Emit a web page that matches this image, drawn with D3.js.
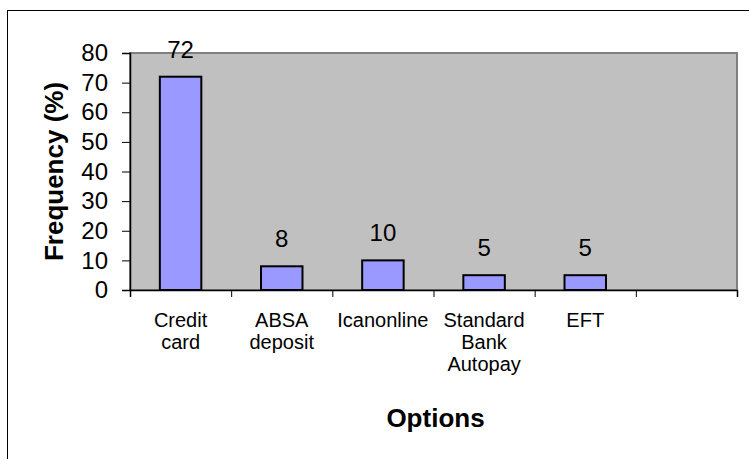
<!DOCTYPE html>
<html><head><meta charset="utf-8">
<script src="https://cdn.jsdelivr.net/npm/d3@7"></script>
<style>body{margin:0;background:#fff}svg{display:block;font-family:Arial,"Liberation Sans",sans-serif}</style>
</head><body>
<script>
const categories = ["Credit card","ABSA deposit","Icanonline","Standard Bank Autopay","EFT",""];
const categoryLines = [["Credit","card"],["ABSA","deposit"],["Icanonline"],["Standard","Bank","Autopay"],["EFT"],[]];
const values = [72,8,10,5,5,null];
const yTicks = [0,10,20,30,40,50,60,70,80];
const yTitle = "Frequency (%)";
const xTitle = "Options";

const W=749,H=459;
const m={left:130,right:12,top:53,bottom:169};
const svg=d3.select("body").append("svg").attr("width",W).attr("height",H);
svg.append("rect").attr("x",7.5).attr("y",10.5).attr("width",W+10).attr("height",H+10)
  .attr("fill","#fff").attr("stroke","#000").attr("stroke-width",1);

const x=d3.scaleBand().domain(categories.map((c,i)=>i)).range([m.left,W-m.right]).paddingInner(0.59).paddingOuter(0.295);
const xb=d3.scaleLinear().domain([0,categories.length]).range([m.left,W-m.right]);
const y=d3.scaleLinear().domain([0,80]).range([H-m.bottom,m.top]);

svg.append("rect").attr("x",m.left).attr("y",m.top).attr("width",W-m.right-m.left).attr("height",H-m.bottom-m.top)
  .attr("fill","#C0C0C0").attr("stroke","#808080").attr("stroke-width",2);

const data=values.map((v,i)=>({i,v})).filter(d=>d.v!=null);
svg.selectAll("rect.bar").data(data).join("rect").attr("class","bar")
  .attr("x",d=>x(d.i)).attr("width",x.bandwidth())
  .attr("y",d=>y(d.v)).attr("height",d=>y(0)-y(d.v))
  .attr("fill","#9999FF").attr("stroke","#000").attr("stroke-width",2);

svg.selectAll("text.lbl").data(data).join("text").attr("class","lbl")
  .attr("x",d=>x(d.i)+x.bandwidth()/2).attr("y",d=>y(d.v)-19)
  .attr("text-anchor","middle").attr("font-size",24).text(d=>d.v);

// y axis
const ya=svg.append("g").attr("transform",`translate(${m.left},0)`)
  .call(d3.axisLeft(y).tickValues(yTicks).tickSize(8).tickPadding(14));
ya.select(".domain").attr("stroke","#000").attr("stroke-width",1.5);
ya.selectAll(".tick line").attr("stroke","#000");
ya.selectAll(".tick text").attr("font-size",24).attr("font-family","Arial,'Liberation Sans',sans-serif").attr("fill","#000");

// x axis (ticks at boundaries)
const xa=svg.append("g").attr("transform",`translate(0,${H-m.bottom})`)
  .call(d3.axisBottom(xb).tickValues(d3.range(categories.length+1)).tickSize(7).tickFormat(""));
xa.select(".domain").attr("stroke","#000").attr("stroke-width",1.5);
xa.selectAll(".tick line").attr("stroke","#000");

const cl=svg.append("g");
categoryLines.forEach((lines,i)=>{
  const t=cl.append("text").attr("x",x(i)+x.bandwidth()/2).attr("y",327).attr("text-anchor","middle").attr("font-size",20);
  lines.forEach((s,k)=>t.append("tspan").attr("x",x(i)+x.bandwidth()/2).attr("dy",k?22:0).text(s));
});

svg.append("text").attr("transform",`translate(63,${(m.top+H-m.bottom)/2}) rotate(-90)`)
  .attr("text-anchor","middle").attr("font-size",26).attr("font-weight","bold").text(yTitle);
svg.append("text").attr("x",(m.left+W-m.right)/2+2).attr("y",427)
  .attr("text-anchor","middle").attr("font-size",26).attr("font-weight","bold").text(xTitle);
</script>
</body></html>
